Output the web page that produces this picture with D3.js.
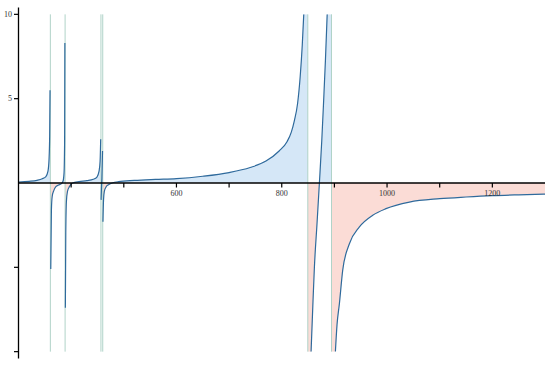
<!DOCTYPE html>
<html>
<head>
<meta charset="utf-8">
<script src="https://cdn.jsdelivr.net/npm/d3@7"></script>
<style>
  html, body { margin: 0; padding: 0; background: #fff; }
  svg { display: block; }
  .tick-label { font-family: "Liberation Serif", "Times New Roman", serif; font-size: 8px; fill: #333; }
</style>
</head>
<body>
<div id="chart"></div>
<script>
// Branches of the curve between vertical asymptotes (y clipped at ±10)
const poles = [360.5, 388.5, 456.6, 460, 849.5, 894.5];

const seg0X = [300, 320, 335, 345, 352, 356, 358, 359.2, 359.9];
const seg0Y = [0.06, 0.1, 0.16, 0.25, 0.38, 0.7, 1.4, 2.8, 5.5];
const seg1X = [361.3, 362.5, 364, 367, 371, 376, 381, 384.5, 386.5, 387.6, 388.1];
const seg1Y = [-5.1, -1.6, -0.8, -0.45, -0.22, -0.12, -0.05, 0.1, 0.6, 2.5, 8.3];
const seg2X = [389, 389.8, 391, 393, 397, 403, 415, 430, 442, 449, 453, 455, 456.1];
const seg2Y = [-7.4, -3, -1.1, -0.5, -0.2, 0, 0.08, 0.14, 0.22, 0.35, 0.7, 1.3, 2.6];
const seg3X = [456.9, 457.6, 458.4, 459.6];
const seg3Y = [-1.0, -0.3, 0.3, 1.9];
const seg4X = [460.4, 461.5, 463, 466, 471, 478, 490, 520, 560, 600, 650, 700, 740, 770, 795, 810, 818, 824, 830, 835, 839, 841.8];
const seg4Y = [-2.3, -1.0, -0.5, -0.25, -0.1, 0, 0.08, 0.15, 0.21, 0.26, 0.4, 0.62, 0.92, 1.3, 1.9, 2.45, 3.0, 3.7, 4.7, 6.3, 8.2, 10];
const seg5X = [855.7, 859, 862, 867, 871.5, 876, 879.6, 883, 886.3];
const seg5Y = [-10, -7.3, -5, -2.4, 0, 2.5, 4.9, 7.3, 10];
const seg6X = [901.9, 905, 909.5, 915.8, 928.5, 947.5, 972.8, 998, 1042.5, 1100, 1150, 1200, 1250, 1300];
const seg6Y = [-10, -8.4, -7.15, -5.17, -3.6, -2.6, -1.91, -1.52, -1.13, -0.93, -0.83, -0.75, -0.7, -0.66];

const xTicks = [400, 500, 600, 700, 800, 900, 1000, 1100, 1200];
const xLabels = [600, 800, 1000, 1200];
const yTicks = [-10, -5, 5, 10];
const yLabels = [5, 10];
const yClip = 10;

const W = 550, H = 365;
const x = d3.scaleLinear().domain([300, 1300]).range([18.5, 545]);
const y = d3.scaleLinear().domain([-10.4, 10.4]).range([358.4, 7.6]);

const svg = d3.select("#chart").append("svg").attr("width", W).attr("height", H);

const defs = svg.append("defs");
const yTop = y(yClip), yBot = y(-yClip), yZero = y(0);
const x0 = x(300), plotW = x(1300) - x(300);
defs.append("clipPath").attr("id", "clip-pos").append("rect")
  .attr("x", x0).attr("y", yTop).attr("width", plotW).attr("height", yZero - yTop);
defs.append("clipPath").attr("id", "clip-neg").append("rect")
  .attr("x", x0).attr("y", yZero).attr("width", plotW).attr("height", yBot - yZero);
defs.append("clipPath").attr("id", "clip-all").append("rect")
  .attr("x", x0).attr("y", yTop).attr("width", plotW).attr("height", yBot - yTop);

const segs = [[seg0X, seg0Y], [seg1X, seg1Y], [seg2X, seg2Y], [seg3X, seg3Y],
              [seg4X, seg4Y], [seg5X, seg5Y], [seg6X, seg6Y]]
  .map(([xs, ys]) => xs.map((v, i) => [v, ys[i]]));

// area data: where a branch runs off the clip, carry it to the asymptote
const areaData = segs.map((pts, i) => {
  const out = pts.slice();
  const first = pts[0], last = pts[pts.length - 1];
  if (i > 0 && Math.abs(first[1]) >= yClip) out.unshift([poles[i - 1], first[1]]);
  if (i < poles.length && Math.abs(last[1]) >= yClip) out.push([poles[i], last[1]]);
  return out;
});

const area = d3.area().x(d => x(d[0])).y0(yZero).y1(d => y(d[1])).curve(d3.curveMonotoneX);
const line = d3.line().x(d => x(d[0])).y(d => y(d[1])).curve(d3.curveMonotoneX);

svg.append("g").attr("clip-path", "url(#clip-pos)")
  .selectAll("path").data(areaData).join("path")
  .attr("d", area).attr("fill", "#d5e7f7");
svg.append("g").attr("clip-path", "url(#clip-neg)")
  .selectAll("path").data(areaData).join("path")
  .attr("d", area).attr("fill", "#fbdcd6");

// asymptote lines
svg.append("g").selectAll("line").data(poles).join("line")
  .attr("x1", d => x(d)).attr("x2", d => x(d))
  .attr("y1", yTop).attr("y2", yBot)
  .attr("stroke", "#b0d3c8").attr("stroke-width", 1);

svg.append("g").attr("clip-path", "url(#clip-all)")
  .selectAll("path").data(segs).join("path")
  .attr("d", line).attr("fill", "none")
  .attr("stroke", "#2f6a9c").attr("stroke-width", 1.2);

// x axis through y = 0
const xAxis = svg.append("g").attr("transform", `translate(0,${yZero})`);
xAxis.append("line").attr("x1", x(300)).attr("x2", x(1300))
  .attr("stroke", "#000").attr("stroke-width", 1.3);
xAxis.selectAll("line.tk").data(xTicks).join("line").attr("class", "tk")
  .attr("x1", d => x(d)).attr("x2", d => x(d)).attr("y1", 0).attr("y2", 4.5)
  .attr("stroke", "#000").attr("stroke-width", 1.2);
xAxis.selectAll("text").data(xLabels).join("text").attr("class", "tick-label")
  .attr("x", d => x(d)).attr("y", 13).attr("text-anchor", "middle")
  .text(d => d);

// y axis at left edge
const yAxis = svg.append("g").attr("transform", `translate(${x(300)},0)`);
yAxis.append("line").attr("y1", y(10.4)).attr("y2", y(-10.4))
  .attr("stroke", "#000").attr("stroke-width", 1.3);
yAxis.selectAll("line.tk").data(yTicks).join("line").attr("class", "tk")
  .attr("x1", -4.5).attr("x2", 0).attr("y1", d => y(d)).attr("y2", d => y(d))
  .attr("stroke", "#000").attr("stroke-width", 1.2);
yAxis.selectAll("text").data(yLabels).join("text").attr("class", "tick-label")
  .attr("x", -6.5).attr("y", d => y(d)).attr("dy", "0.32em").attr("text-anchor", "end")
  .text(d => d);
</script>
</body>
</html>
